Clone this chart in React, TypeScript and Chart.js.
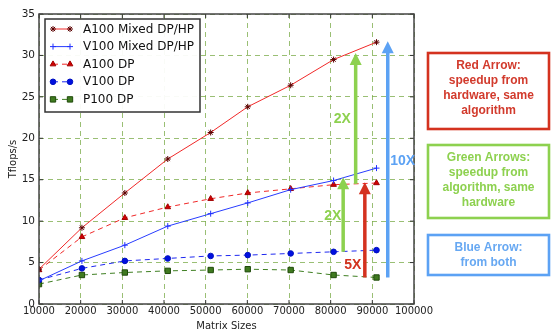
import React, { useEffect, useRef } from "react";
import { Chart, registerables } from "chart.js";
import { drawPoint } from "chart.js/helpers";

Chart.register(...registerables);

// ---- data ----
const matrixSizes = [10000, 20300, 30600, 40900, 51200, 60100, 70400, 80700, 91000];
const a100Mixed = [4.2, 9.2, 13.4, 17.5, 20.7, 23.8, 26.4, 29.5, 31.6];
const v100Mixed = [2.8, 5.2, 7.1, 9.4, 10.9, 12.2, 13.8, 14.9, 16.4];
const a100DP = [4.1, 8.1, 10.4, 11.7, 12.7, 13.4, 13.9, 14.4, 14.6];
const v100DP = [2.9, 4.3, 5.2, 5.5, 5.8, 5.9, 6.1, 6.3, 6.5];
const p100DP = [2.4, 3.5, 3.8, 4.0, 4.1, 4.2, 4.1, 3.5, 3.2];
const seriesNames = ["A100 Mixed DP/HP", "V100 Mixed DP/HP", "A100 DP", "V100 DP", "P100 DP"];
const xTickValues = [10000, 20000, 30000, 40000, 50000, 60000, 70000, 80000, 90000, 100000];
const yTickValues = [0, 5, 10, 15, 20, 25, 30, 35];

// annotation arrows (data coords)
const arrowX = [83000, 86000, 88200, 93700];
const arrowFrom = [6.3, 14.5, 3.2, 3.2];
const arrowTo = [15.3, 30.3, 14.7, 31.7];
const arrowLabels = ["2X", "2X", "5X", "10X"];
const labelX = [80500, 82800, 85300, 97300];
const labelY = [10.6, 22.3, 4.7, 17.3];

const GREEN = "#8dd14f";
const RED = "#d4321f";
const BLUE = "#5ca2f4";
const arrowColors = [GREEN, GREEN, RED, BLUE];

const boxTexts = [
  ["Red Arrow:", "speedup from", "hardware, same", "algorithm"],
  ["Green Arrows:", "speedup from", "algorithm, same", "hardware"],
  ["Blue Arrow:", "from both"],
];
const boxColors = [RED, GREEN, BLUE];
const boxTextColors = ["#d23a2c", "#8dd14f", "#67a8f2"];

const toPts = (ys: number[]) => ys.map((y, i) => ({ x: matrixSizes[i], y }));

const styles = [
  { color: "rgb(240,40,40)", dash: [], pointStyle: "star", radius: 3, bg: "#8b1010", pb: "#5a0000" },
  { color: "rgb(40,60,255)", dash: [], pointStyle: "cross", radius: 3, bg: "#2030ff", pb: "#2030ff" },
  { color: "rgb(240,40,40)", dash: [5, 4], pointStyle: "triangle", radius: 3.3, bg: "#d00000", pb: "#a00000" },
  { color: "rgb(30,40,240)", dash: [5, 4], pointStyle: "circle", radius: 2.8, bg: "#0010e0", pb: "#0010c0" },
  { color: "#3f7f22", dash: [5, 4], pointStyle: "rect", radius: 3.8, bg: "#3f7a1f", pb: "#1f4a0a" },
];

const overlay = {
  id: "overlay",
  afterDraw(chart: any) {
    const { ctx, chartArea: a, scales } = chart;
    const xs = scales.x;
    const ys = scales.y;
    ctx.save();
    ctx.setLineDash([]);

    // inner tick marks
    ctx.strokeStyle = "#333";
    ctx.lineWidth = 1;
    const seg = (x1: number, y1: number, x2: number, y2: number) => {
      ctx.beginPath();
      ctx.moveTo(x1, y1);
      ctx.lineTo(x2, y2);
      ctx.stroke();
    };
    for (const v of yTickValues) {
      const y = ys.getPixelForValue(v);
      seg(a.left, y, a.left + 4, y);
      seg(a.right - 4, y, a.right, y);
    }
    for (const v of xTickValues) {
      const x = xs.getPixelForValue(v);
      seg(x, a.bottom, x, a.bottom - 4);
      seg(x, a.top, x, a.top + 4);
    }
    // frame
    ctx.strokeStyle = "#444";
    ctx.lineWidth = 1.5;
    ctx.strokeRect(a.left, a.top, a.right - a.left, a.bottom - a.top);

    // arrows
    for (let i = 0; i < arrowX.length; i++) {
      const x = xs.getPixelForValue(arrowX[i]);
      const y0 = ys.getPixelForValue(arrowFrom[i]);
      const y1 = ys.getPixelForValue(arrowTo[i]);
      const head = 12;
      ctx.fillStyle = arrowColors[i];
      ctx.fillRect(x - 1.75, y1 + head - 1, 3.5, y0 - y1 - head + 1);
      ctx.beginPath();
      ctx.moveTo(x, y1);
      ctx.lineTo(x - 6, y1 + head);
      ctx.lineTo(x + 6, y1 + head);
      ctx.closePath();
      ctx.fill();
    }
    ctx.font = "bold 14px 'Liberation Sans', Arial, sans-serif";
    ctx.textAlign = "center";
    ctx.textBaseline = "middle";
    const lblColors = [GREEN, GREEN, RED, BLUE];
    for (let i = 0; i < arrowLabels.length; i++) {
      ctx.fillStyle = lblColors[i];
      ctx.fillText(arrowLabels[i], xs.getPixelForValue(labelX[i]), ys.getPixelForValue(labelY[i]));
    }

    // legend
    const lx = 45, ly = 19, lw = 155, lh = 93;
    ctx.fillStyle = "rgba(255,255,255,0.95)";
    ctx.fillRect(lx, ly, lw, lh);
    ctx.strokeStyle = "#333";
    ctx.lineWidth = 1.5;
    ctx.strokeRect(lx, ly, lw, lh);
    ctx.font = "12px 'DejaVu Sans', sans-serif";
    ctx.textAlign = "left";
    ctx.textBaseline = "middle";
    for (let i = 0; i < seriesNames.length; i++) {
      const s = styles[i];
      const ry = 29 + i * 17.6;
      ctx.strokeStyle = s.color;
      ctx.lineWidth = 1;
      ctx.setLineDash(s.dash);
      seg(53, ry, 70, ry);
      ctx.setLineDash([]);
      for (const px of [53, 70]) {
        ctx.fillStyle = s.bg;
        ctx.strokeStyle = s.pb;
        ctx.lineWidth = 1;
        drawPoint(ctx, { pointStyle: s.pointStyle as any, radius: s.radius, rotation: 0, borderWidth: 1 }, px, ry);
      }
      ctx.fillStyle = "#111";
      ctx.fillText(seriesNames[i], 83, ry + 0.5);
    }

    // explanation boxes
    const boxTop = [53, 145, 235];
    const boxH = [76, 73, 40];
    ctx.lineWidth = 2.6;
    ctx.font = "bold 12px 'Liberation Sans', Arial, sans-serif";
    ctx.textAlign = "center";
    for (let i = 0; i < boxTexts.length; i++) {
      ctx.strokeStyle = boxColors[i];
      ctx.strokeRect(428, boxTop[i], 121, boxH[i]);
      ctx.fillStyle = boxTextColors[i];
      const lines = boxTexts[i];
      const first = boxTop[i] + 13;
      lines.forEach((t, j) => ctx.fillText(t, 488.5, first + j * 15));
    }
    ctx.restore();
  },
};

export default function App() {
  const ref = useRef<HTMLCanvasElement>(null);
  useEffect(() => {
    if (!ref.current) return;
    const datasets = [a100Mixed, v100Mixed, a100DP, v100DP, p100DP].map((d, i) => {
      const s = styles[i];
      return {
        label: seriesNames[i],
        data: toPts(d),
        borderColor: s.color,
        borderWidth: 1,
        borderDash: s.dash,
        pointStyle: s.pointStyle,
        pointRadius: s.radius,
        pointBackgroundColor: s.bg,
        pointBorderColor: s.pb,
        pointBorderWidth: 1,
        fill: false,
        tension: 0,
      };
    });
    const chart = new Chart(ref.current, {
      type: "line",
      data: { datasets: datasets as any },
      options: {
        responsive: false,
        animation: false,
        devicePixelRatio: 1,
        layout: { padding: { top: 14, right: 137, left: 0, bottom: 0 } },
        plugins: { legend: { display: false }, tooltip: { enabled: false } },
        scales: {
          x: {
            type: "linear",
            min: 10000,
            max: 100000,
            afterFit: (s: any) => {
              s.height = 28;
            },
            afterBuildTicks: (s: any) => {
              s.ticks = xTickValues.map((v) => ({ value: v }));
            },
            ticks: {
              autoSkip: false,
              maxRotation: 0,
              padding: 1,
              color: "#222",
              font: { family: "'DejaVu Sans', sans-serif", size: 10 },
              callback: (v: any) => String(v),
            },
            grid: { color: "rgba(120,170,70,0.75)", lineWidth: 1, drawTicks: false },
            border: { display: false, dash: [5, 4] },
            title: {
              display: true,
              text: "Matrix Sizes",
              color: "#222",
              padding: { top: 0, bottom: 0 },
              font: { family: "'DejaVu Sans', sans-serif", size: 10 },
            },
          },
          y: {
            min: 0,
            max: 35,
            afterFit: (s: any) => {
              s.width = 39;
            },
            afterBuildTicks: (s: any) => {
              s.ticks = yTickValues.map((v) => ({ value: v }));
            },
            ticks: {
              padding: 4,
              color: "#222",
              font: { family: "'DejaVu Sans', sans-serif", size: 10.5 },
            },
            grid: { color: "rgba(120,170,70,0.75)", lineWidth: 1, drawTicks: false },
            border: { display: false, dash: [5, 4] },
            title: {
              display: true,
              text: "Tflops/s",
              color: "#222",
              padding: { top: 7, bottom: 0 },
              font: { family: "'DejaVu Sans', sans-serif", size: 10 },
            },
          },
        },
      },
      plugins: [overlay],
    });
    return () => chart.destroy();
  }, []);
  return (
    <div style={{ position: "fixed", left: 0, top: 0, width: 551, height: 332, background: "#fff" }}>
      <canvas ref={ref} width={551} height={332} />
    </div>
  );
}
